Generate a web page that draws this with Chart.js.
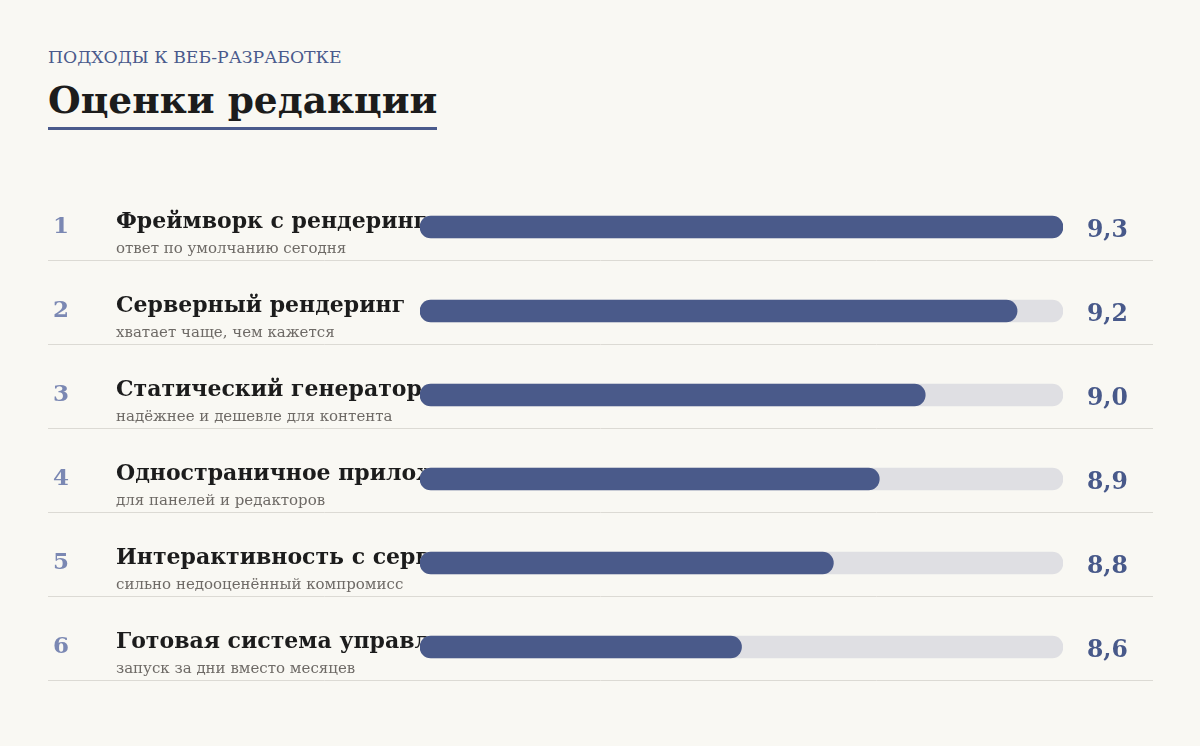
<!DOCTYPE html>
<html lang="ru">
<head>
<meta charset="utf-8">
<script src="https://cdn.jsdelivr.net/npm/chart.js@4.4.0/dist/chart.umd.min.js"></script>
<style>
  html, body { margin: 0; padding: 0; background: #f9f8f3; }
  body { width: 1200px; height: 746px; position: relative; overflow: hidden; font-family: 'DejaVu Serif', serif; }
  .kicker { position: absolute; left: 48px; top: 49px; font-size: 17.3px; line-height: 17px; color: #4a5a8c; }
  .title { position: absolute; left: 48px; top: 81px; font-size: 37.5px; line-height: 38px; font-weight: bold; color: #1c1c1c;
           padding-bottom: 8px; border-bottom: 3px solid #4a5a8c; }
  .wrap { position: absolute; left: 0; top: 185px; width: 1200px; height: 504px; }
</style>
</head>
<body>
<div class="kicker">ПОДХОДЫ К ВЕБ-РАЗРАБОТКЕ</div>
<div class="title">Оценки редакции</div>
<div class="wrap"><canvas id="rankChart"></canvas></div>
<script>
  const names = [
    'Фреймворк с рендерингом на сервере',
    'Серверный рендеринг',
    'Статический генератор',
    'Одностраничное приложение',
    'Интерактивность с серверными островами',
    'Готовая система управления контентом'
  ];
  const notes = [
    'ответ по умолчанию сегодня',
    'хватает чаще, чем кажется',
    'надёжнее и дешевле для контента',
    'для панелей и редакторов',
    'сильно недооценённый компромисс',
    'запуск за дни вместо месяцев'
  ];
  const scores = [9.3, 9.2, 9.0, 8.9, 8.8, 8.6];
  const scaleMin = 7.9;
  const scaleMax = 9.3;

  const serif = "'DejaVu Serif', serif";

  // text goes under the bars, like in the original
  const rowText = {
    id: 'rowText',
    beforeDatasetsDraw(chart) {
      const ctx = chart.ctx;
      const y = chart.scales.y;
      ctx.save();
      names.forEach((name, i) => {
        const cy = y.getPixelForValue(i);
        ctx.textBaseline = 'alphabetic';
        ctx.textAlign = 'left';
        ctx.fillStyle = '#7b88b3';
        ctx.font = 'bold 23px ' + serif;
        ctx.fillText(String(i + 1), 53, cy + 6);
        ctx.fillStyle = '#1c1c1c';
        ctx.font = 'bold 22px ' + serif;
        ctx.fillText(name, 116, cy + 1);
        ctx.fillStyle = '#6e6a66';
        ctx.font = '15px ' + serif;
        ctx.fillText(notes[i], 116, cy + 26);
        ctx.strokeStyle = '#dcdad4';
        ctx.lineWidth = 1;
        ctx.beginPath();
        ctx.moveTo(48, Math.round(cy + 33) + 0.5);
        ctx.lineTo(1153, Math.round(cy + 33) + 0.5);
        ctx.stroke();
      });
      ctx.restore();
    },
    afterDatasetsDraw(chart) {
      const ctx = chart.ctx;
      const y = chart.scales.y;
      ctx.save();
      ctx.fillStyle = '#48598a';
      ctx.font = 'bold 23.5px ' + serif;
      ctx.textAlign = 'left';
      ctx.textBaseline = 'alphabetic';
      scores.forEach((s, i) => {
        ctx.fillText(s.toFixed(1).replace('.', ','), 1087, y.getPixelForValue(i) + 10);
      });
      ctx.restore();
    }
  };

  new Chart(document.getElementById('rankChart'), {
    type: 'bar',
    data: {
      labels: names,
      datasets: [
        {
          data: scores,
          base: scaleMin,
          backgroundColor: '#4a5a8a',
          borderRadius: 11,
          borderSkipped: false,
          barThickness: 22,
          grouped: false
        },
        {
          data: scores.map(() => scaleMax),
          base: scaleMin,
          backgroundColor: '#dfdfe3',
          borderRadius: 11,
          borderSkipped: false,
          barThickness: 22,
          grouped: false
        }
      ]
    },
    options: {
      indexAxis: 'y',
      responsive: true,
      maintainAspectRatio: false,
      animation: false,
      layout: { padding: { left: 420, right: 137, top: 0, bottom: 0 } },
      scales: {
        x: { display: false, min: scaleMin, max: scaleMax },
        y: { display: false, offset: true }
      },
      plugins: {
        legend: { display: false },
        tooltip: { enabled: false }
      }
    },
    plugins: [rowText]
  });
</script>
</body>
</html>
